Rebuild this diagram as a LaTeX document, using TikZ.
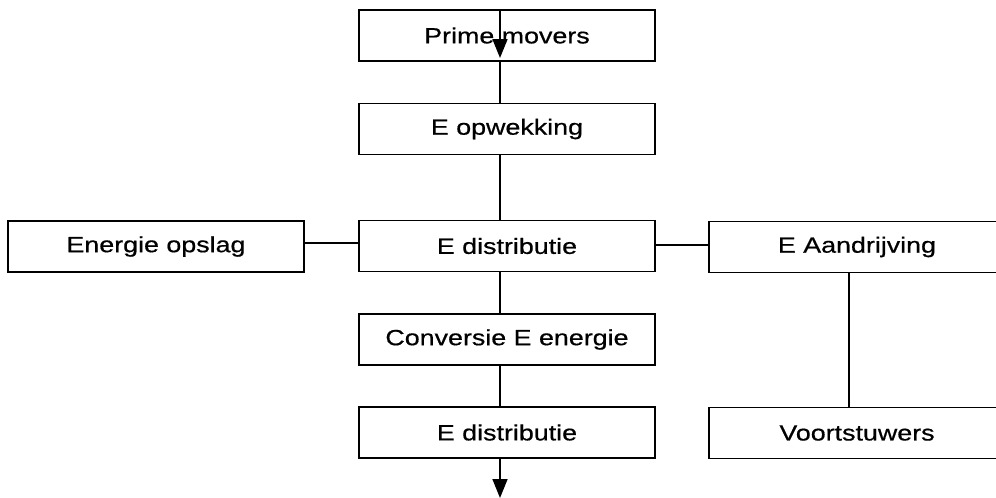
\documentclass[tikz,border=0pt]{standalone}
\usepackage{fontspec}
\setmainfont[FakeStretch=1.22,FakeBold=0.6]{Liberation Sans}
\usetikzlibrary{arrows.meta}
\begin{document}
\begin{tikzpicture}[x=1pt,y=-1pt,
  block/.style={draw, line width=1.6pt, minimum width=296pt, minimum height=51pt,
    inner sep=0pt, font=\fontsize{22}{26}\selectfont},
  link/.style={line width=1.6pt},
  flow/.style={line width=1.6pt, -{Triangle[width=15pt,length=19pt]}}]
  \useasboundingbox (0,0) rectangle (996,498);
  % guide positions for the connector lines
  \coordinate (spine) at (500,0);
  \coordinate (rspine) at (849,0);
  \coordinate (hline) at (0,243);
  \coordinate (hliner) at (0,245);
  % main column
  \node[block] (pm) at (507,35.5) {Prime movers};
  \node[block] (eo) at (507,129) {E opwekking};
  \node[block] (ed) at (507,246) {E distributie};
  \node[block] (ce) at (507,339.5) {Conversie E energie};
  \node[block] (ed2) at (507,432.5) {E distributie};
  % side blocks
  \node[block] (opslag) at (156,246.5) {Energie opslag};
  \node[block] (aan) at (857,247) {E Aandrijving};
  \node[block] (voort) at (857,433) {Voortstuwers};
  % arrows in and out
  \coordinate (intip) at (500,58);
  \coordinate (outtip) at (500,498);
  \draw[flow] (pm.north -| spine) -- (intip);
  \draw[flow] (ed2.south -| spine) -- (outtip);
  % vertical links
  \draw[link] (pm.south -| spine) -- (eo.north -| spine);
  \draw[link] (eo.south -| spine) -- (ed.north -| spine);
  \draw[link] (ed.south -| spine) -- (ce.north -| spine);
  \draw[link] (ce.south -| spine) -- (ed2.north -| spine);
  \draw[link] (aan.south -| rspine) -- (voort.north -| rspine);
  % horizontal links
  \draw[link] (opslag.east |- hline) -- (ed.west |- hline);
  \draw[link] (ed.east |- hliner) -- (aan.west |- hliner);
\end{tikzpicture}
\end{document}
